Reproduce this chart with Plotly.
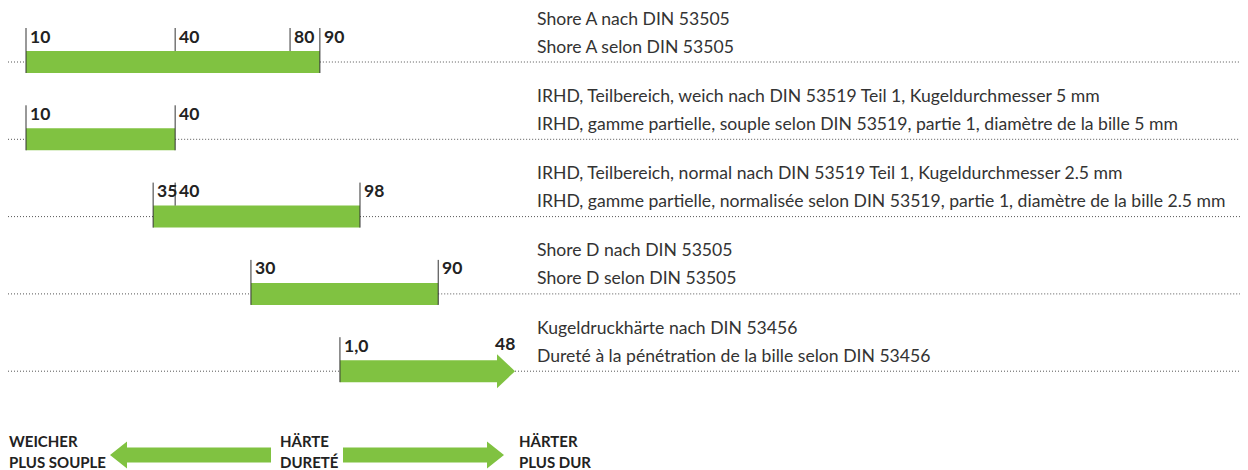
import plotly.graph_objects as go

# ---------------- data ----------------
# common comparison axis (relative hardness, 0..100 across the drawn scales)
row_desc_de = [
    "Shore A nach DIN 53505",
    "IRHD, Teilbereich, weich nach DIN 53519 Teil 1, Kugeldurchmesser 5 mm",
    "IRHD, Teilbereich, normal nach DIN 53519 Teil 1, Kugeldurchmesser 2.5 mm",
    "Shore D nach DIN 53505",
    "Kugeldruckhärte nach DIN 53456",
]
row_desc_fr = [
    "Shore A selon DIN 53505",
    "IRHD, gamme partielle, souple selon DIN 53519, partie 1, diamètre de la bille 5 mm",
    "IRHD, gamme partielle, normalisée selon DIN 53519, partie 1, diamètre de la bille 2.5 mm",
    "Shore D selon DIN 53505",
    "Dureté à la pénétration de la bille selon DIN 53456",
]
tick_labels = [
    ["10", "40", "80", "90"],
    ["10", "40"],
    ["35", "40", "98"],
    ["30", "90"],
    ["1,0", "48"],
]
tick_pos = [
    [0.0, 30.5, 54.0, 60.1],
    [0.0, 30.5],
    [26.0, 30.5, 68.3],
    [46.0, 84.3],
    [64.2, 100.0],
]
open_ended = [False, False, False, False, True]   # last scale shown as arrow

legend_soft = ["WEICHER", "PLUS SOUPLE"]
legend_mid = ["HÄRTE", "DURETÉ"]
legend_hard = ["HÄRTER", "PLUS DUR"]

# ---------------- styling ----------------
GREEN = "#80c241"
DARK = "#222222"
TXT = "#333333"
FONT = "Lato"

# axis geometry: 1 unit on x = 4.89 px, 1 row = 77.3 px
PX_X = 4.89
PX_Y = 77.3
PAGE_OFF = 8  # page body margin
FIG_W, FIG_H = 1248 - PAGE_OFF, 470 - PAGE_OFF


def dx(px):
    return px / PX_X


def dy(px):
    return px / PX_Y


x_left = -(26 - PAGE_OFF) / PX_X
x_right = x_left + FIG_W / PX_X
y_top = -(62 - PAGE_OFF) / PX_Y
y_bot = y_top + FIG_H / PX_Y

fig = go.Figure()
annotations = []

bar_half = dy(11)
tick_top = dy(34)
head_half = dy(17)
head_len = dx(18)
dot_start = x_left

for i in range(len(tick_labels)):
    pos = tick_pos[i]
    start, end = pos[0], pos[-1]
    body_end = end - head_len if open_ended[i] else end
    # dotted guide line (broken by the bar)
    fig.add_trace(go.Scatter(
        x=[dot_start, start, None, end, x_right], y=[i, i, None, i, i],
        mode="lines", line=dict(color="#555555", width=1, dash="1px,2px"),
        hoverinfo="skip", showlegend=False))
    # bar
    fig.add_trace(go.Bar(
        y=[i], x=[body_end - start], base=[start], orientation="h",
        width=2 * bar_half, marker=dict(color=GREEN, line=dict(width=0)),
        hoverinfo="skip", showlegend=False))
    if open_ended[i]:
        fig.add_trace(go.Scatter(
            x=[body_end, end, body_end, body_end],
            y=[i - head_half, i, i + head_half, i - head_half],
            mode="lines", fill="toself", fillcolor=GREEN,
            line=dict(width=0, color=GREEN), hoverinfo="skip", showlegend=False))
    # tick marks
    tx, ty = [], []
    for k, p in enumerate(pos):
        if open_ended[i] and k == len(pos) - 1:
            continue
        edge = (k == 0 or k == len(pos) - 1)
        tx += [p, p, None]
        ty += [i - tick_top, (i + bar_half) if edge else (i - bar_half), None]
    fig.add_trace(go.Scatter(
        x=tx, y=ty, mode="lines", line=dict(color="#333333", width=1),
        hoverinfo="skip", showlegend=False))
    # tick labels
    for k, (p, lab) in enumerate(zip(pos, tick_labels[i])):
        if open_ended[i] and k == len(pos) - 1:
            annotations.append(dict(
                x=p + dx(2), y=i - dy(28), text=f"<b>{lab}</b>", xanchor="right",
                yanchor="middle", showarrow=False,
                font=dict(family=FONT, size=17.5, color=DARK, weight=900)))
        else:
            annotations.append(dict(
                x=p + dx(2), y=i - dy(26), text=f"<b>{lab}</b>", xanchor="left",
                yanchor="middle", showarrow=False,
                font=dict(family=FONT, size=17.5, color=DARK, weight=900)))
    # descriptions
    for txt, off in ((row_desc_de[i], -44), (row_desc_fr[i], -16)):
        annotations.append(dict(
            x=dx(510), y=i + dy(off), text=txt, xanchor="left", yanchor="middle",
            showarrow=False, borderpad=0,
            font=dict(family=FONT, size=17.6, color=TXT)))

# ---------------- bottom direction legend ----------------
ly = dy(455 - 62)
bh = dy(7.5)
hh = dy(13.5)
al = dx(17)
# left arrow (softer)
lt, lb = dx(110 - 26), dx(271 - 26)
fig.add_trace(go.Scatter(
    x=[lt, lt + al, lt + al, lb, lb, lt + al, lt + al, lt],
    y=[ly, ly - hh, ly - bh, ly - bh, ly + bh, ly + bh, ly + hh, ly],
    mode="lines", fill="toself", fillcolor=GREEN, line=dict(width=0, color=GREEN),
    hoverinfo="skip", showlegend=False))
# right arrow (harder)
rs, rt = dx(343 - 26), dx(504 - 26)
fig.add_trace(go.Scatter(
    x=[rs, rt - al, rt - al, rt, rt - al, rt - al, rs, rs],
    y=[ly - bh, ly - bh, ly - hh, ly, ly + hh, ly + bh, ly + bh, ly - bh],
    mode="lines", fill="toself", fillcolor=GREEN, line=dict(width=0, color=GREEN),
    hoverinfo="skip", showlegend=False))

for xs, labels in ((x_left, legend_soft), (dx(279 - 26), legend_mid), (dx(518 - 26), legend_hard)):
    for lab, yy in zip(labels, (dy(441 - 62), dy(462 - 62))):
        annotations.append(dict(
            x=(xs - x_left) / (x_right - x_left), xref="paper",
            y=yy, text=f"<b>{lab}</b>", xanchor="left", yanchor="middle",
            showarrow=False, borderpad=0,
            font=dict(family=FONT, size=15, color=DARK, weight=900)))

fig.update_layout(
    width=FIG_W, height=FIG_H,
    margin=dict(l=0, r=0, t=0, b=0),
    paper_bgcolor="white", plot_bgcolor="white",
    barmode="overlay",
    showlegend=False,
    xaxis=dict(range=[x_left, x_right], visible=False, fixedrange=True),
    yaxis=dict(range=[y_bot, y_top], visible=False, fixedrange=True),
    annotations=annotations,
)

fig.write_html("out.html")
